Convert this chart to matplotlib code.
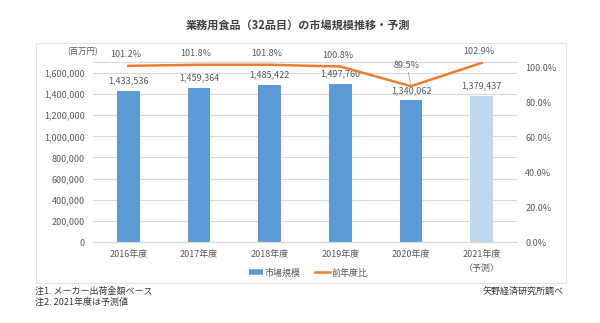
import matplotlib
matplotlib.use('Agg')
import matplotlib.pyplot as plt
from matplotlib.lines import Line2D
from matplotlib.patches import Rectangle
from matplotlib.ticker import FuncFormatter, MultipleLocator

plt.rcParams['font.family'] = ['Noto Sans CJK JP', 'DejaVu Sans']

# data
years = ['2016年度', '2017年度', '2018年度', '2019年度', '2020年度', '2021年度\n（予測）']
market = [1433536, 1459364, 1485422, 1497760, 1340062, 1379437]
yoy = [101.2, 101.8, 101.8, 100.8, 89.5, 102.9]
forecast = [False, False, False, False, False, True]

BLUE = '#5B9BD5'
LIGHT = '#BDD7EE'
ORANGE = '#ED7D31'
GRID = '#D9D9D9'
TXT = '#595959'

fig = plt.figure(figsize=(6.0, 3.23), dpi=100)
fig.patch.set_facecolor('white')

# chart frame
fig.patches.append(Rectangle((36 / 600, 1 - 283 / 323), 530 / 600, 240 / 323,
                             transform=fig.transFigure, fill=False,
                             edgecolor='#E4E4E4', linewidth=0.8))

ax1 = fig.add_axes([93 / 600, 1 - 242 / 323, 424 / 600, 180 / 323])
ax2 = ax1.twinx()

x = list(range(len(years)))
colors = [LIGHT if f else BLUE for f in forecast]
bars = ax1.bar(x, market, width=0.32, color=colors, zorder=2)

ax1.set_xlim(-0.5, len(years) - 0.5)
ax1.set_ylim(0, 1704000)
ax1.yaxis.set_major_locator(MultipleLocator(200000))
ax1.yaxis.set_major_formatter(FuncFormatter(lambda v, p: f'{int(v):,}'))
ax1.grid(axis='y', color=GRID, linewidth=0.8, zorder=0)
ax1.set_axisbelow(True)
ax1.set_xticks(x)
ax1.set_xticklabels(years, fontsize=6.5, color=TXT, linespacing=1.6, va='top')
ax1.tick_params(axis='x', length=0, pad=6)
ax1.tick_params(axis='y', length=0, labelsize=6.5, labelcolor=TXT, pad=6)

for b, v in zip(bars, market):
    ax1.annotate(f'{v:,}', (b.get_x() + b.get_width() / 2, v), xytext=(0, 4),
                 textcoords='offset points', ha='center', va='bottom',
                 fontsize=6.5, color=TXT)

ax2.plot(x, [v / 100 for v in yoy], color=ORANGE, linewidth=1.8, zorder=3)
ax2.set_ylim(0, 1.034)
ax2.yaxis.set_major_locator(MultipleLocator(0.2))
ax2.yaxis.set_major_formatter(FuncFormatter(lambda v, p: f'{v * 100:.1f}%'))
ax2.tick_params(axis='y', length=0, labelsize=6.5, labelcolor=TXT, pad=6)

for i, v in enumerate(yoy):
    if v < 95:
        ax2.annotate(f'{v}%', (x[i], v / 100), xytext=(-3, 12),
                     textcoords='offset points', ha='center', va='bottom',
                     fontsize=6.5, color=TXT,
                     arrowprops=dict(arrowstyle='-', color='#A6A6A6', lw=0.6,
                                     shrinkA=0, shrinkB=1))
    else:
        ax2.annotate(f'{v}%', (x[i], v / 100), xytext=(-2, 5),
                     textcoords='offset points', ha='center', va='bottom',
                     fontsize=6.5, color=TXT)

for a in (ax1, ax2):
    for s in ('left', 'right'):
        a.spines[s].set_visible(False)
    a.spines['top'].set_color(GRID)
    a.spines['top'].set_linewidth(0.8)
    a.spines['bottom'].set_color(GRID)
    a.spines['bottom'].set_linewidth(0.8)

fig.text(83 / 600, 1 - 52 / 323, '(百万円)', fontsize=6, color=TXT,
         ha='center', va='center')

fig.text(298 / 600, 1 - 25 / 323, '業務用食品（32品目）の市場規模推移・予測',
         fontsize=8, color='#404040', ha='center', va='center', fontweight='bold')

handles = [Line2D([0], [0], color=BLUE, linewidth=4, solid_capstyle='butt'),
           Line2D([0], [0], color=ORANGE, linewidth=1.8)]
fig.legend(handles, ['市場規模', '前年度比'], loc='center',
           bbox_to_anchor=(308 / 600, 1 - 273 / 323), ncol=2, frameon=False,
           fontsize=6.5, labelcolor=TXT, handlelength=1.6, handletextpad=0.2,
           columnspacing=1.6)

fig.text(35 / 600, 1 - 291 / 323, '注1. メーカー出荷金額ベース', fontsize=6.5,
         color='#333333', ha='left', va='center')
fig.text(35 / 600, 1 - 302 / 323, '注2. 2021年度は予測値', fontsize=6.5,
         color='#333333', ha='left', va='center')
fig.text(564 / 600, 1 - 291 / 323, '矢野経済研究所調べ', fontsize=6.5,
         color='#333333', ha='right', va='center')

fig.savefig('out.png', dpi=100, facecolor='white')
